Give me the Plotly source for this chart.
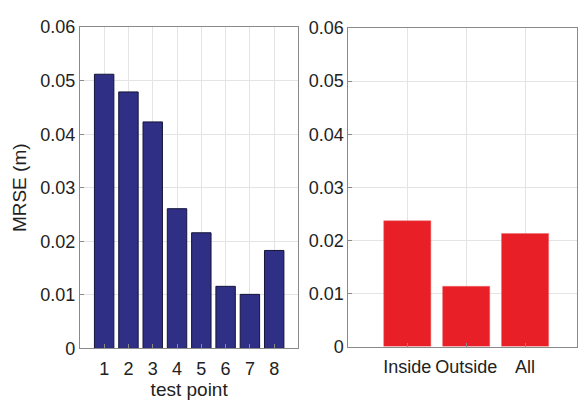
import plotly.graph_objects as go

test_points = [1, 2, 3, 4, 5, 6, 7, 8]
mrse_points = [0.0512, 0.0479, 0.0423, 0.0261, 0.0216, 0.0116, 0.0101, 0.0183]

groups = ["Inside", "Outside", "All"]
group_pos = [1, 2, 3]
mrse_groups = [0.0237, 0.01135, 0.0213]

y_ticks = [0, 0.01, 0.02, 0.03, 0.04, 0.05, 0.06]
y_ticktext = ["0", "0.01", "0.02", "0.03", "0.04", "0.05", "0.06"]

W, H = 578, 406
font = dict(family="Liberation Sans, Arial, Helvetica, sans-serif", size=18, color="#222222")

fig = go.Figure()
fig.add_trace(go.Bar(x=test_points, y=mrse_points, width=0.8,
                     marker=dict(color="#2f2f85", line=dict(color="#15153a", width=1)),
                     xaxis="x", yaxis="y", showlegend=False))
fig.add_trace(go.Bar(x=group_pos, y=mrse_groups, width=0.8,
                     marker=dict(color="#e81f26", line=dict(color="#e86a6a", width=0.5)),
                     xaxis="x2", yaxis="y2", showlegend=False))

grid = "#e4e4e4"
axcol = "#8a8a8a"
common_x = dict(showgrid=True, gridcolor=grid, showline=True, linecolor=axcol, linewidth=1,
                mirror=True, ticks="inside", ticklen=4, tickcolor=axcol, zeroline=False,
                tickfont=font, ticklabelstandoff=4)
common_y = dict(showgrid=True, gridcolor=grid, showline=True, linecolor=axcol, linewidth=1,
                mirror=True, ticks="inside", ticklen=4, tickcolor=axcol, zeroline=False,
                tickfont=font, range=[0, 0.06], tickvals=y_ticks, ticktext=y_ticktext)

fig.update_layout(
    width=W, height=H,
    margin=dict(l=0, r=0, t=0, b=0),
    paper_bgcolor="white", plot_bgcolor="white",
    font=font,
    bargap=0.2,
    xaxis=dict(**common_x, domain=[80 / W, 299 / W], range=[0, 9],
               tickvals=test_points, ticktext=[str(v) for v in test_points],
               title=dict(text="test point", font=dict(size=19), standoff=0)),
    yaxis=dict(**common_y, domain=[50 / H, 388 / H], anchor="x",
               title=dict(text="MRSE (m)", font=dict(size=19), standoff=8)),
    xaxis2=dict(**common_x, domain=[349 / W, 1.0], range=[0, (578 - 349) / 59.0],
                tickvals=group_pos, ticktext=groups, anchor="y2"),
    yaxis2=dict(**common_y, domain=[52 / H, 387 / H], anchor="x2"),
)

fig.write_html("out.html")
